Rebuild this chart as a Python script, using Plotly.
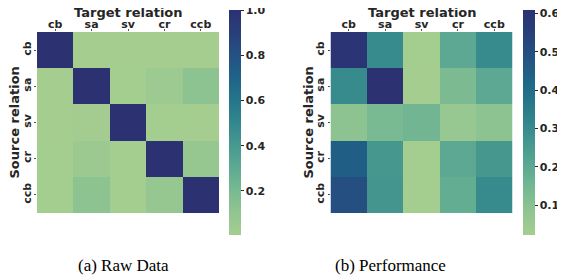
import plotly.graph_objects as go

relations = ["cb", "sa", "sv", "cr", "ccb"]

raw_data = [
    [1.0, 0.006, 0.005, 0.006, 0.006],
    [0.007, 1.0, 0.008, 0.045, 0.12],
    [0.006, 0.012, 1.0, 0.008, 0.007],
    [0.008, 0.05, 0.01, 1.0, 0.08],
    [0.008, 0.12, 0.01, 0.08, 1.0],
]

performance = [
    [0.595, 0.30, 0.025, 0.20, 0.30],
    [0.30, 0.609, 0.022, 0.13, 0.20],
    [0.09, 0.135, 0.155, 0.06, 0.09],
    [0.45, 0.26, 0.024, 0.20, 0.26],
    [0.50, 0.27, 0.025, 0.185, 0.30],
]

captions = ["(a) Raw Data", "(b) Performance"]
x_title = "Target relation"
y_title = "Source relation"
raw_ticks = [0.2, 0.4, 0.6, 0.8, 1.0]
perf_ticks = [0.1, 0.2, 0.3, 0.4, 0.5, 0.6]

crest = [
    [0.0, "rgb(165,205,144)"],
    [0.1, "rgb(145,197,145)"],
    [0.2, "rgb(120,185,146)"],
    [0.3, "rgb(93,169,147)"],
    [0.4, "rgb(71,153,143)"],
    [0.5, "rgb(51,134,140)"],
    [0.6, "rgb(38,117,139)"],
    [0.7, "rgb(31,99,135)"],
    [0.8, "rgb(36,81,130)"],
    [0.9, "rgb(40,63,122)"],
    [1.0, "rgb(44,49,114)"],
]

W, H = 565, 275
# the page body offsets the plot div by 8px; compensate so marks land on page pixels
OX, OY = 8, 8
TXT = "#262626"
tickfont = dict(family="DejaVu Sans", size=11, color=TXT, weight="bold")
titlefont = dict(family="DejaVu Sans", size=13, color=TXT, weight="bold")
capfont = dict(family="Liberation Serif", size=17, color="black")

fig = go.Figure()
fig.add_trace(go.Heatmap(z=raw_data, x=relations, y=relations, coloraxis="coloraxis",
                         xaxis="x", yaxis="y"))
fig.add_trace(go.Heatmap(z=performance, x=relations, y=relations, coloraxis="coloraxis2",
                         xaxis="x2", yaxis="y2"))

def flat(m):
    return [v for r in m for v in r]

def fx(p):
    return (p - OX) / W

def fy(p):
    return 1 - (p - OY) / H

def xax(a, b, anchor):
    return dict(domain=[fx(a), fx(b)], anchor=anchor, side="top", showgrid=False, zeroline=False,
                ticks="outside", ticklen=2, tickcolor="#555", tickfont=tickfont,
                ticklabelstandoff=-3,
                showline=False, fixedrange=True, automargin=False)

def yax(top, bot, anchor):
    return dict(domain=[fy(bot), fy(top)], anchor=anchor, autorange="reversed", showgrid=False,
                zeroline=False, ticks="outside", ticklen=2, tickcolor="#555", tickfont=tickfont,
                tickangle=-90, ticklabelstandoff=-1,
                showline=False, fixedrange=True, automargin=False)

def cax(vals, ticks, x):
    return dict(colorscale=crest, cmin=min(flat(vals)), cmax=max(flat(vals)),
                colorbar=dict(x=fx(x), xanchor="left", xref="paper", y=fy(122.5), yanchor="middle",
                              len=225 / H, lenmode="fraction", thickness=12, thicknessmode="pixels",
                              outlinewidth=0, tickvals=ticks, tickformat=".1f", ticks="outside",
                              ticklen=3, tickcolor=TXT, tickfont=tickfont, ypad=0, xpad=0,
                              ticklabeloverflow="allow"))

def ann(text, x, y, font, angle=0):
    return dict(text=text, x=fx(x), y=fy(y), xref="paper", yref="paper", showarrow=False,
                font=font, xanchor="center", yanchor="middle", textangle=angle)

fig.update_layout(
    template="none",
    width=W, height=H, margin=dict(l=0, r=0, t=0, b=0, autoexpand=False),
    paper_bgcolor="white", plot_bgcolor="white",
    xaxis=xax(37, 219, "y"),
    yaxis=yax(32, 213, "x"),
    xaxis2=xax(330.5, 512.5, "y2"),
    yaxis2=yax(32, 213, "x2"),
    coloraxis=cax(raw_data, raw_ticks, 229),
    coloraxis2=cax(performance, perf_ticks, 522.5),
    annotations=[
        ann(x_title, 128, 12.5, titlefont),
        ann(x_title, 422, 12.5, titlefont),
        ann(y_title, 14, 122.5, titlefont, -90),
        ann(y_title, 308, 122.5, titlefont, -90),
        ann(captions[0], 123, 265, capfont),
        ann(captions[1], 390.5, 265, capfont),
    ],
)

fig.write_html("out.html")
